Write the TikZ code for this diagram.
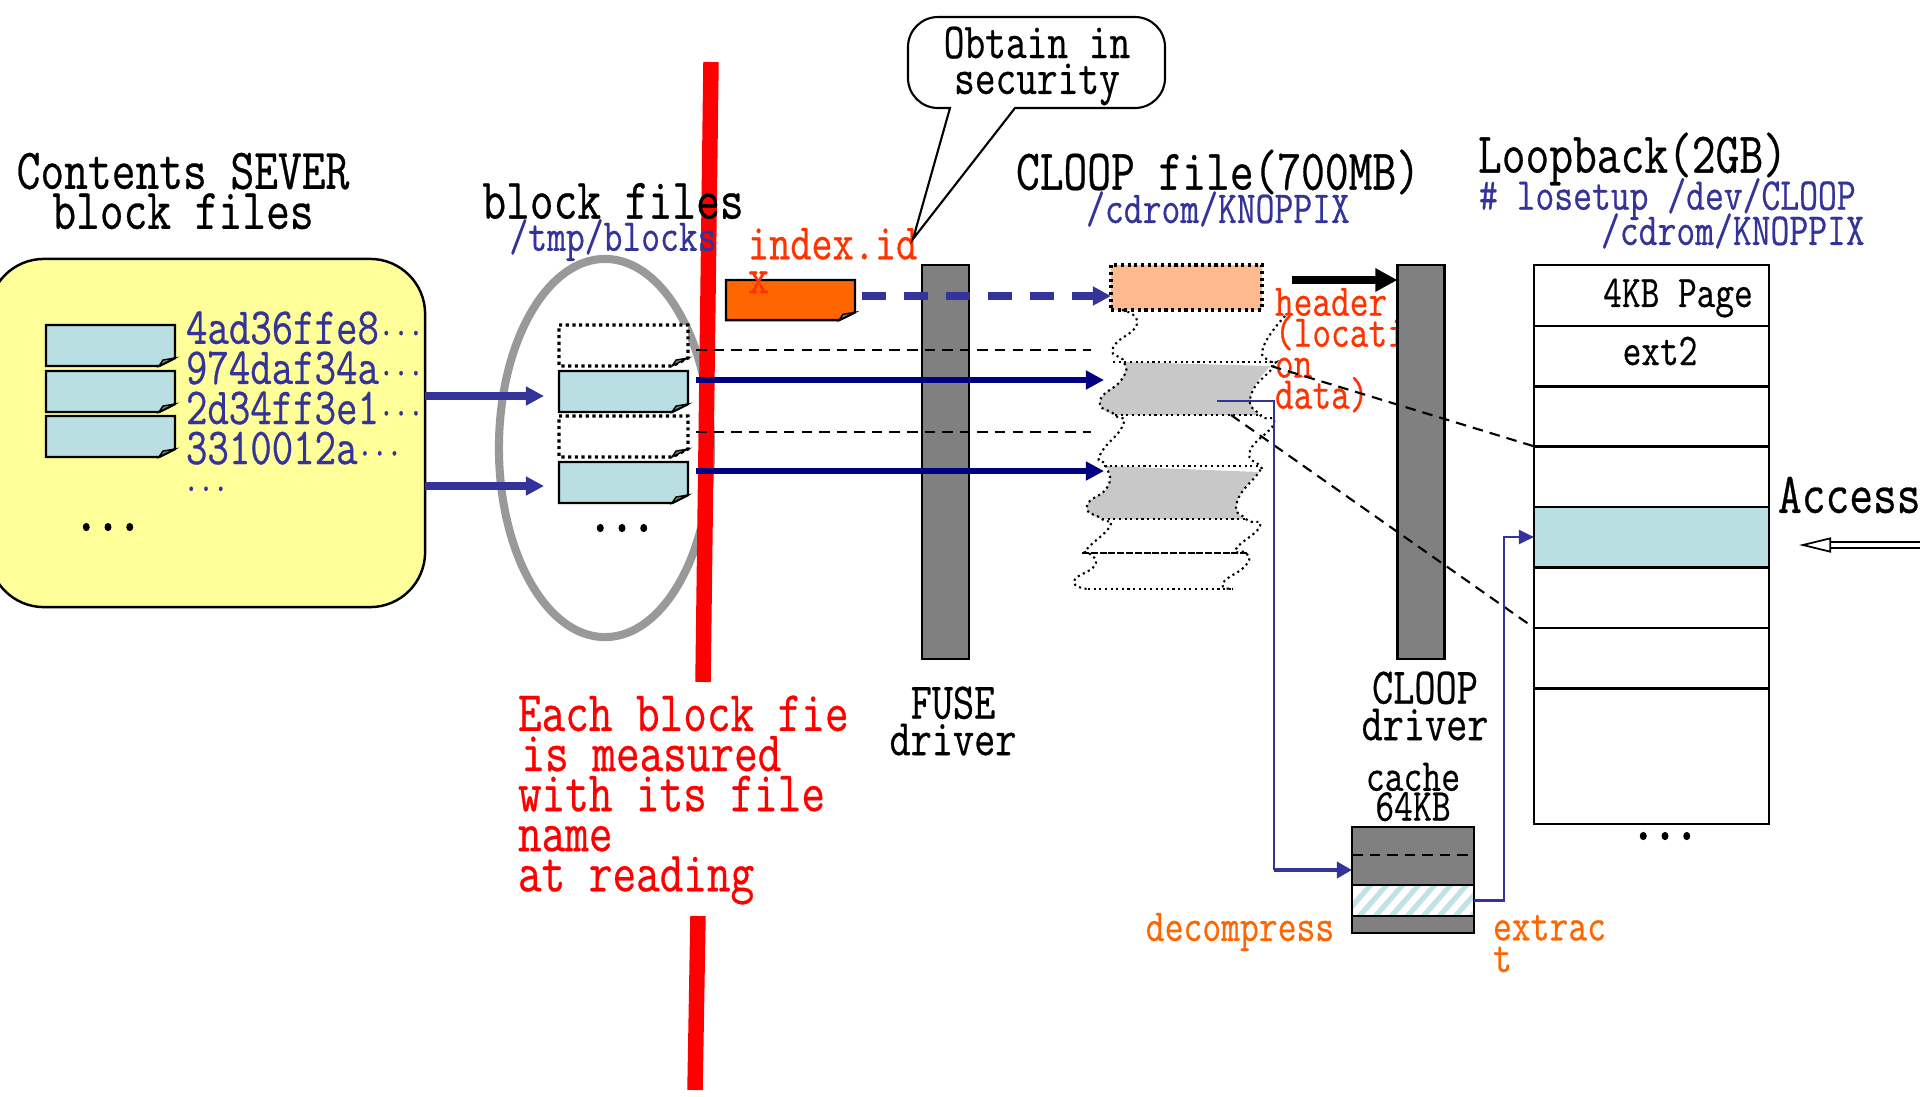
\documentclass[tikz,border=0pt]{standalone}
\usepackage{fontspec}
\usetikzlibrary{arrows.meta, shapes.geometric}
\newfontfamily\slimfont[FakeStretch=0.8, FakeBold=0.5]{Latin Modern Mono}
\newfontfamily\slimdots[FakeStretch=0.8, FakeBold=4]{Latin Modern Mono}
\newcommand{\slim}[2]{\slimfont\fontsize{#1}{#2}\selectfont\lineskiplimit=-20pt\relax}
\definecolor{serveryellow}{HTML}{FFFF99}
\definecolor{filecyan}{HTML}{B9DFE2}
\definecolor{hatchcyan}{HTML}{BFE3E6}
\definecolor{labelblue}{HTML}{333399}
\definecolor{linknavy}{HTML}{000080}
\definecolor{bargray}{HTML}{808080}
\definecolor{wavegray}{HTML}{C8C8C8}
\definecolor{ellipsegray}{HTML}{999999}
\definecolor{redlabel}{HTML}{FF3300}
\definecolor{orangelabel}{HTML}{FF6600}
\definecolor{headerpeach}{HTML}{FFB98F}
\tikzset{
    txt/.style={inner sep=0, outer sep=0, align=center},
    heading/.style={txt, font=\slim{16.4}{11.4}},
    driverlabel/.style={txt, font=\slim{14.6}{10.4}},
    pathlabel/.style={txt, text=labelblue, font=\slim{13}{9.4}},
    moredots/.style={txt, anchor=base, font=\slimdots\fontsize{15}{12}\selectfont},
    bar/.style={draw=black, fill=bargray, line width=.7pt, inner sep=0, outer sep=0, minimum width=.47cm, minimum height=3.94cm},
    pagerow/.style={draw=black, line width=.7pt, inner sep=0, outer sep=0, minimum width=2.35cm, minimum height=.605cm},
    blockfull/.style={draw=black, fill=filecyan, line width=.7pt},
    blockempty/.style={draw=black, fill=white, line width=.9pt, densely dotted},
    wave/.style={draw=black, line width=.6pt, densely dotted},
    edgeline/.style={draw=black, line width=.8pt, densely dashed},
    thinlink/.style={draw=labelblue, line width=.6pt},
    fatlink/.style={line width=2.1pt, -{Triangle[length=.18cm, width=.18cm]}},
    pics/blockfile/.style={code={
        \path[pic actions] (0,0) -- (129,0) -- (129,33) -- (113,41) -- (0,41) -- cycle;
        \draw[black, fill=gray, line width=.4pt, solid] (113,41) -- (117,35) -- (129,33) -- cycle;
    }}
}
\begin{document}
\begin{tikzpicture}[x=0.01cm, y=-0.01cm]
    \useasboundingbox (0,0) rectangle (1920,1096);

    % left server box
    \node[draw=black, fill=serveryellow, rounded corners=.55cm, line width=.7pt, inner sep=0, outer sep=0,
        minimum width=4.36cm, minimum height=3.48cm] (server) at (207,433) {};
    \foreach \y in {325,371,416}
        \pic[blockfull] at (46,\y) {blockfile};
    \node[txt, anchor=west, text=labelblue, font=\slim{14.8}{11.4}, align=left] (hashes) at (186,388)
        {4ad36ffe8{\slim{10}{11.4}···}\\974daf34a{\slim{10}{11.4}···}\\2d34ff3e1{\slim{10}{11.4}···}\\3310012a{\slim{10}{11.4}···}};
    \node[txt, anchor=base, text=labelblue, font=\slim{10}{10}] (hashmore) at (206,491) {...};
    \node[moredots] (servermore) at (108,530) {...};
    \node[heading] (servertitle) at (183,191) {Contents SEVER\\block files};

    % local blocks
    \node[draw=ellipsegray, line width=2.3pt, ellipse, inner sep=0, minimum width=2.12cm, minimum height=3.78cm] (cachering) at (605,448) {};
    \foreach \y/\kind in {325/blockempty,371/blockfull,416/blockempty,462/blockfull}
        \pic[\kind] at (559,\y) {blockfile};
    \node[moredots] (blockmore) at (622,531) {...};

    % red wall
    \coordinate (wallA) at (711,62);
    \coordinate (wallB) at (703,682);
    \coordinate (wallC) at (698,916);
    \coordinate (wallD) at (695,1090);
    \draw[red, line width=4.4pt] (wallA) -- (wallB);
    \draw[red, line width=4.4pt] (wallC) -- (wallD);

    \node[heading] (blocktitle) at (613,201) {block files};
    \node[pathlabel] (blockpath) at (613,240) {/tmp/blocks};
    \pic[draw=black, fill=orangelabel, line width=.7pt, xscale=1, yscale=.98] at (726,280) {blockfile};
    \node[txt, anchor=north west, text=redlabel, font=\slim{14.6}{9.7}, align=left] (indexlabel) at (748,228) {index.id\\x};
    \node[txt, anchor=west, text=red, font=\slim{16.3}{11.4}, align=left] (measurenote) at (518,800)
        {Each block fie\\\hspace*{1pt}is measured\\with its file\\name\\at reading};

    % callout
    \coordinate (tailtip) at (913,239);
    \draw[fill=white, line width=.6pt] (950,108) -- (tailtip) -- (1015,108) [rounded corners=.3cm] -- (1165,108) -- (1165,17) -- (908,17) -- (908,108) [sharp corners] -- cycle;
    \node[txt, font=\slim{14.3}{10.2}] (calloutlabel) at (1037,66) {Obtain in\\security};

    % CLOOP file
    \node[heading] (clooptitle) at (1218,172) {CLOOP file(700MB)};
    \node[pathlabel] (cloopfile) at (1218,209) {/cdrom/KNOPPIX};
    \node[txt, anchor=north west, text=redlabel, font=\slim{12.9}{8.8}, align=left] (headerlabel) at (1275,288) {header\\(locati\\on\\data)};
    \node[draw=black, fill=headerpeach, line width=.9pt, densely dotted, inner sep=0, outer sep=0, minimum width=1.51cm, minimum height=.45cm] (headerblock) at (1186.5,287.5) {};
    \fill[wavegray] plot[smooth, tension=1] coordinates {(1124,362) (1122,379) (1100,401) (1115,415)} -- plot[smooth, tension=1] coordinates {(1260,415) (1251,395) (1271,366)} -- cycle;
    \fill[wavegray] plot[smooth, tension=1] coordinates {(1106,466) (1108,486) (1087,506) (1102,519)} -- plot[smooth, tension=1] coordinates {(1246,519) (1237,502) (1259,472)} -- cycle;
    \draw[wave] plot[smooth, tension=1] coordinates {(1122,310) (1137,324) (1113,348) (1124,362) (1122,379) (1100,401) (1115,415) (1123,425) (1100,455) (1106,466) (1108,486) (1087,506) (1102,519) (1110,526) (1087,549) (1089,553) (1095,565) (1074,581) (1088,589)};
    \draw[wave] plot[smooth, tension=1] coordinates {(1285,316) (1263,348) (1271,362) (1274,366) (1251,395) (1260,415) (1274,423) (1250,451) (1260,466) (1259,472) (1237,502) (1246,519) (1260,526) (1236,549) (1246,553) (1246,565) (1223,583) (1233,589)};
    \draw[wave, line width=.8pt] (1113,362) -- (1274,362);
    \draw[wave, line width=.8pt] (1115,415) -- (1262,415);
    \draw[wave, line width=.8pt] (1104,466) -- (1260,466);
    \draw[wave, line width=.8pt] (1102,519) -- (1246,519);
    \draw[wave, line width=.8pt, dash pattern=on 2pt off .5pt] (1082,553) -- (1247,553);
    \draw[wave, line width=.8pt] (1088,589) -- (1233,589);

    % drivers
    \node[bar] (fusebar) at (945.5,462) {};
    \node[bar] (cloopbar) at (1421,462) {};
    \node[driverlabel] (fuselabel) at (953,721) {FUSE\\driver};
    \node[driverlabel] (clooplabel) at (1425,706) {CLOOP\\driver};

    % loopback table
    \node[heading, anchor=west] (looptitle) at (1478,159) {Loopback(2GB)};
    \node[txt, text=labelblue, font=\slim{13}{10}, anchor=north west, align=left] (looppath) at (1479,178) {\#\ losetup /dev/CLOOP\\\hspace*{34.7pt}/cdrom/KNOPPIX};
    \foreach \i/\y in {1/295.5,2/356.5,3/416,4/476.5,6/597.5,7/658}
        \node[pagerow] (row\i) at (1651.5,\y) {};
    \node[pagerow, fill=filecyan] (row5) at (1651.5,537) {};
    \node[pagerow, minimum height=1.36cm] (row8) at (1651.5,756) {};
    \node[txt, font=\slim{12.9}{10}] (pagelabel) at (1678,298) {4KB Page};
    \node[txt, font=\slim{12.9}{10}] (ext2label) at (1660,351) {ext2};
    \node[moredots] (tablemore) at (1665,839) {...};
    \node[txt, anchor=west, font=\slim{16.4}{12}] (accesslabel) at (1778,495) {Access};
    \coordinate (accessfrom) at (1930,545);
    \coordinate (accessto) at (1799,545);
    \draw[line width=.5pt, double, double distance=1.2pt, -{Triangle[open, length=.32cm, width=.15cm]}] (accessfrom) -- (accessto);

    % cache
    \node[draw=black, fill=bargray, line width=.8pt, inner sep=0, outer sep=0, minimum width=1.22cm, minimum height=1.06cm] (cachebox) at (1413,880) {};
    \node[draw=black, fill=white, line width=.8pt, inner sep=0, outer sep=0, minimum width=1.22cm, minimum height=.31cm] (hatchbox) at (1413,900.5) {};
    \begin{scope}
        \clip (hatchbox.south west) rectangle (hatchbox.north east);
        \foreach \x in {1340,1356,...,1500}
            \draw[hatchcyan, line width=1.5pt] (\x,920) -- (\x+35,880);
    \end{scope}
    \draw[line width=.8pt] (hatchbox.south west) rectangle (hatchbox.north east);
    \draw[densely dashed, line width=.7pt] (cachebox.west |- 0,855) -- (cachebox.east |- 0,855);
    \node[txt, font=\slim{13}{8.5}] (cachelabel) at (1413,792) {cache\\64KB};
    \node[txt, text=orangelabel, font=\slim{13}{10}] (decomplabel) at (1240,932) {decompress};
    \node[txt, anchor=north west, text=orangelabel, font=\slim{13}{9}, align=left] (extractlabel) at (1493,915) {extrac\\t};

    % connectors
    \coordinate (inA) at (544,396);
    \coordinate (inB) at (544,486);
    \draw[fatlink, labelblue] (server.east |- inA) -- (inA);
    \draw[fatlink, labelblue] (server.east |- inB) -- (inB);
    \coordinate (idxfrom) at (862,296);
    \draw[fatlink, labelblue, dash pattern=on .24cm off .18cm] (idxfrom) -- (headerblock.west |- idxfrom);
    \coordinate (holeA) at (696,350);
    \coordinate (holeB) at (696,432);
    \draw[edgeline] (holeA) -- (1091,350);
    \draw[edgeline] (holeB) -- (1091,432);
    \coordinate (fromA) at (696,380);
    \coordinate (fromB) at (696,471);
    \coordinate (grayA) at (1104,380);
    \coordinate (grayB) at (1104,471);
    \draw[fatlink, linknavy, line width=1.8pt] (fromA) -- (grayA);
    \draw[fatlink, linknavy, line width=1.8pt] (fromB) -- (grayB);
    \coordinate (hdrfrom) at (1292,280);
    \draw[fatlink, black, line width=2.4pt, -{Triangle[length=.22cm, width=.22cm]}] (hdrfrom) -- (cloopbar.west |- hdrfrom);
    \coordinate (grayhigh) at (1271,366);
    \coordinate (graylow) at (1231,415);
    \draw[edgeline, line width=.6pt] (grayhigh) -- (row3.south west);
    \draw[edgeline, line width=.6pt] (graylow) -- (row6.south west);
    \coordinate (grayref) at (1217,401);
    \coordinate (cachebend) at (1274,870);
    \draw[thinlink] (grayref) -- (1274,401) -- (cachebend);
    \draw[thinlink, line width=1pt, -{Triangle[length=.15cm, width=.16cm]}, labelblue] (cachebend) -- (cachebox.west |- cachebend);
    \draw[thinlink, -{Triangle[length=.15cm, width=.14cm]}, labelblue] (hatchbox.east) -- (1504,900.5) -- (1504,537) -- (row5.west);
\end{tikzpicture}
\end{document}
